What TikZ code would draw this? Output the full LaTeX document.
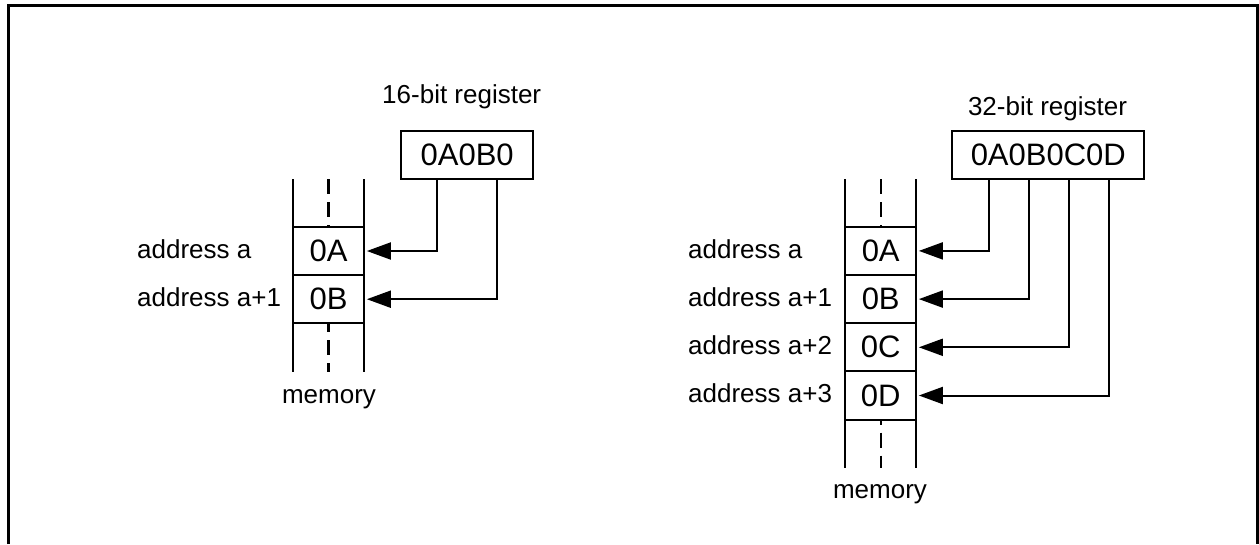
\documentclass[tikz,border=0pt]{standalone}
\usepackage{fontspec}
\setmainfont{Liberation Sans}
\usetikzlibrary{arrows.meta,calc}
\begin{document}
\begin{tikzpicture}[x=1pt,y=-1pt,
  lbl/.style={font=\fontsize{26}{30}\selectfont, inner sep=0pt},
  valtxt/.style={font=\fontsize{31}{36}\selectfont},
  regbox/.style={draw, line width=2pt, valtxt, minimum height=47.7pt, inner sep=0pt, outer sep=0pt},
  cell/.style={draw, line width=2pt, valtxt, minimum width=71.5pt, minimum height=48.2pt, inner sep=0pt, outer sep=0pt},
  colline/.style={line width=2pt},
  dashl/.style={line width=2.6pt, dash pattern=on 15pt off 8pt},
  dashr/.style={line width=2pt, dash pattern=on 15pt off 8pt},
  arr/.style={line width=2pt, -{Triangle[length=24pt,width=17pt]}, shorten >=2.4pt},
  framel/.style={line width=2.3pt}]
\useasboundingbox (0,0) rectangle (1259,544);
\draw[framel] (8.5,544) -- (8.5,5.5) -- (1257.5,5.5) -- (1257.5,544);

% ---------- left: 16-bit ----------
\node[regbox, minimum width=132.3pt] (reg1) at (467.2,155.2) {0A0B0};
\node[lbl, anchor=base] (t1) at (461.7,103.3) {16-bit register};
\node[cell] (A1) at (328.7,251) {0A};
\node[cell, anchor=north] (B1) at (A1.south) {0B};
\coordinate (c1top) at (0,179);
\coordinate (c1bot) at (0,371.7);
\draw[colline] (c1top -| A1.west) -- (c1bot -| A1.west);
\draw[colline] (c1top -| A1.east) -- (c1bot -| A1.east);
\draw[dashl] (c1top -| A1.center) -- (A1.north);
\draw[dashl, dash phase=6pt] (B1.south) -- (c1bot -| B1.center);
\draw[arr] ($(reg1.south west)+(35.7,0)$) |- (A1.east);
\draw[arr] ($(reg1.south west)+(96,0)$) |- (B1.east);
\node[lbl, anchor=base west] (la1) at (137,258.5) {address a};
\node[lbl, anchor=base west] (lb1) at (137,306.5) {address a+1};
\node[lbl, anchor=base] (mem1) at (329,403) {memory};

% ---------- right: 32-bit ----------
\node[regbox, minimum width=192pt] (reg2) at (1048.3,155.2) {0A0B0C0D};
\node[lbl, anchor=base] (t2) at (1047.5,115) {32-bit register};
\node[cell] (A2) at (880.7,250.9) {0A};
\node[cell, anchor=north] (B2) at (A2.south) {0B};
\node[cell, anchor=north] (C2) at (B2.south) {0C};
\node[cell, anchor=north] (D2) at (C2.south) {0D};
\coordinate (c2top) at (0,179);
\coordinate (c2bot) at (0,467.7);
\draw[colline] (c2top -| A2.west) -- (c2bot -| A2.west);
\draw[colline] (c2top -| A2.east) -- (c2bot -| A2.east);
\draw[dashr] (c2top -| A2.center) -- (A2.north);
\draw[dashr, dash phase=10pt] (D2.south) -- (c2bot -| D2.center);
\draw[arr] ($(reg2.south west)+(37,0)$) |- (A2.east);
\draw[arr] ($(reg2.south west)+(76.7,0)$) |- (B2.east);
\draw[arr] ($(reg2.south west)+(117,0)$) |- (C2.east);
\draw[arr] ($(reg2.south west)+(156.4,0)$) |- (D2.east);
\node[lbl, anchor=base west] (la2) at (688,258.5) {address a};
\node[lbl, anchor=base west] (lb2) at (688,306.5) {address a+1};
\node[lbl, anchor=base west] (lc2) at (688,354.5) {address a+2};
\node[lbl, anchor=base west] (ld2) at (688,402.5) {address a+3};
\node[lbl, anchor=base] (mem2) at (880,498.3) {memory};
\end{tikzpicture}
\end{document}
